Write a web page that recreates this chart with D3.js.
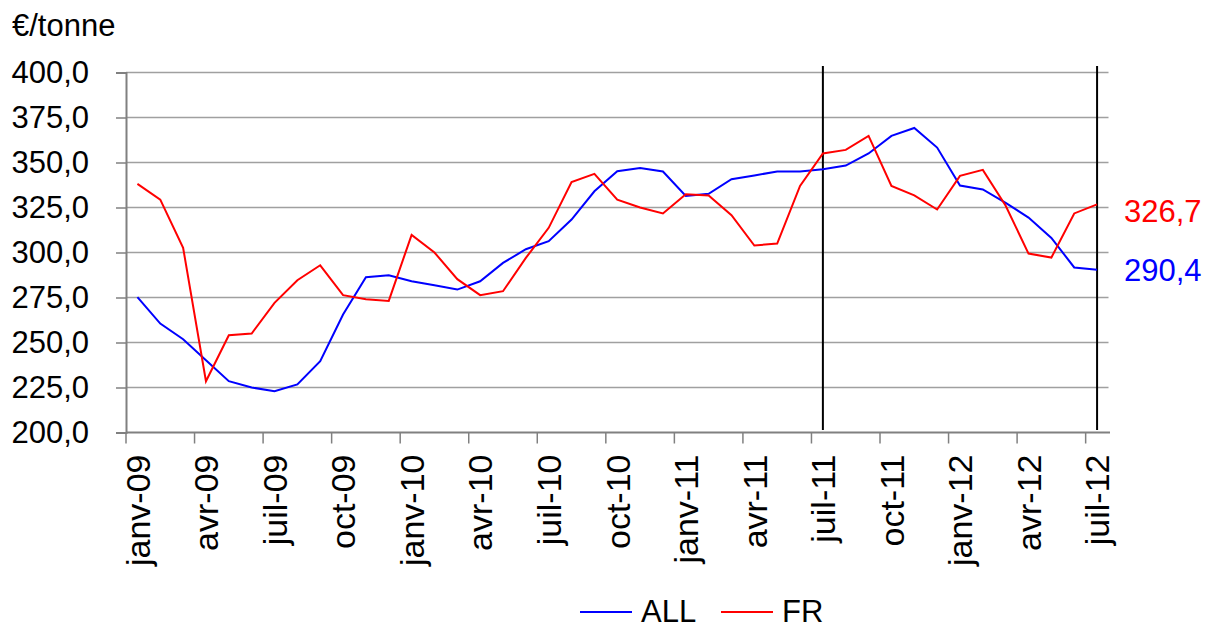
<!DOCTYPE html>
<meta charset="utf-8">
<style>
body {
  margin: 0;
  background: #fff;
  font-family: "Liberation Sans", Arial, sans-serif;
}
svg text {
  fill: #000;
}
</style>
<body>
<svg width="1213" height="625"></svg>
<script src="https://d3js.org/d3.v7.min.js"></script>
<script>
// months janv-09 .. juil-12
var months = ["janv-09","févr-09","mars-09","avr-09","mai-09","juin-09","juil-09","août-09","sept-09","oct-09","nov-09","déc-09",
  "janv-10","févr-10","mars-10","avr-10","mai-10","juin-10","juil-10","août-10","sept-10","oct-10","nov-10","déc-10",
  "janv-11","févr-11","mars-11","avr-11","mai-11","juin-11","juil-11","août-11","sept-11","oct-11","nov-11","déc-11",
  "janv-12","févr-12","mars-12","avr-12","mai-12","juin-12","juil-12"];

var allValues = [275.2,260.5,251.8,240.2,228.5,225.0,222.9,226.7,239.6,265.5,286.3,287.4,
  284.0,281.8,279.4,284.0,294.2,301.8,306.3,318.3,334.0,345.2,347.0,345.0,
  331.4,332.6,340.7,342.8,345.0,345.0,346.3,348.3,355.0,364.8,369.2,358.3,
  337.2,335.0,327.6,319.4,308.1,291.7,290.4];

var frValues = [338.1,329.4,302.6,228.5,254.0,255.0,272.0,284.6,292.9,276.3,274.0,273.1,
  309.8,300.0,285.2,276.3,278.5,297.0,313.7,339.2,343.7,329.4,325.0,321.7,
  332.4,331.7,320.7,303.9,305.0,337.0,355.0,357.0,364.8,337.0,331.7,323.9,
  342.6,345.9,326.0,299.4,297.2,321.7,326.7];

var yTicks = [200,225,250,275,300,325,350,375,400];
var tickMonths = months.filter(function(d, i) { return i % 3 === 0; });
var markerMonths = ["juil-11","juil-12"];

var series = [
  {name: "ALL", values: allValues, color: "#0000ff"},
  {name: "FR", values: frValues, color: "#ff0000"}
];

var svg = d3.select("svg");
var fontSize = 31;

var x = d3.scaleBand().domain(months).range([126, 1108.5]);
var y = d3.scaleLinear().domain([200, 400]).range([432.5, 72.5]);
var fmt = function(v) { return d3.format(".1f")(v).replace(".", ","); };

// gridlines
svg.append("g")
  .selectAll("line")
  .data(yTicks.slice(1))
  .enter().append("line")
    .attr("x1", 126).attr("x2", 1108.5)
    .attr("y1", function(d) { return y(d); })
    .attr("y2", function(d) { return y(d); })
    .attr("stroke", "#a0a0a0")
    .attr("stroke-width", 1.3);

// y axis
var yAxis = svg.append("g")
  .attr("transform", "translate(126,0)")
  .call(d3.axisLeft(y).tickValues(yTicks).tickSize(10).tickPadding(27).tickFormat(fmt));
yAxis.select(".domain").attr("stroke", "#808080").attr("stroke-width", 2);
yAxis.selectAll(".tick line").attr("stroke", "#808080").attr("stroke-width", 1.5);
yAxis.selectAll("text")
  .style("font-size", fontSize + "px")
  .style("font-family", "'Liberation Sans', Arial, sans-serif")
  .attr("fill", "#000");

// x axis: ticks between categories, every 3 months
var xAxis = svg.append("g").attr("transform", "translate(0," + y(200) + ")");
xAxis.append("line")
  .attr("x1", 126).attr("x2", 1110)
  .attr("stroke", "#808080").attr("stroke-width", 2);
xAxis.selectAll(".xtick")
  .data(tickMonths)
  .enter().append("line")
    .attr("class", "xtick")
    .attr("x1", function(d) { return x(d); })
    .attr("x2", function(d) { return x(d); })
    .attr("y1", 0).attr("y2", 11)
    .attr("stroke", "#808080").attr("stroke-width", 1.5);
xAxis.selectAll(".xlabel")
  .data(tickMonths)
  .enter().append("text")
    .attr("class", "xlabel")
    .attr("transform", function(d) {
      return "translate(" + (x(d) + x.bandwidth() / 2) + ",22) rotate(-90)";
    })
    .attr("text-anchor", "end")
    .attr("dy", "0.36em")
    .style("font-size", "34px")
    .text(function(d) { return d; });

// vertical markers
svg.append("g")
  .selectAll("line")
  .data(markerMonths)
  .enter().append("line")
    .attr("x1", function(d) { return x(d) + x.bandwidth() / 2; })
    .attr("x2", function(d) { return x(d) + x.bandwidth() / 2; })
    .attr("y1", 66).attr("y2", 430)
    .attr("stroke", "#000").attr("stroke-width", 2);

// lines
var line = d3.line()
  .x(function(d, i) { return x(months[i]) + x.bandwidth() / 2; })
  .y(function(d) { return y(d); });

svg.selectAll(".series")
  .data(series)
  .enter().append("path")
    .attr("class", "series")
    .attr("d", function(d) { return line(d.values); })
    .attr("fill", "none")
    .attr("stroke", function(d) { return d.color; })
    .attr("stroke-width", 2);

// end labels
svg.selectAll(".endlabel")
  .data(series)
  .enter().append("text")
    .attr("class", "endlabel")
    .attr("x", 1124)
    .attr("y", function(d) {
      var v = d.values[d.values.length - 1];
      return y(v) + (d.name === "FR" ? 6 : 0);
    })
    .attr("dy", "0.36em")
    .style("font-size", fontSize + "px")
    .style("fill", function(d) { return d.color; })
    .text(function(d) { return fmt(d.values[d.values.length - 1]); });

// unit
svg.append("text")
  .attr("x", 12).attr("y", 36)
  .style("font-size", fontSize + "px")
  .text("€/tonne");

// legend
var legend = svg.append("g").attr("transform", "translate(580,612)");
var lg = legend.selectAll("g")
  .data(series)
  .enter().append("g")
    .attr("transform", function(d, i) { return "translate(" + (i * 141) + ",0)"; });
lg.append("line")
  .attr("x1", 0).attr("x2", 52)
  .attr("stroke", function(d) { return d.color; })
  .attr("stroke-width", 2);
lg.append("text")
  .attr("x", 61)
  .attr("y", 10)
  .style("font-size", fontSize + "px")
  .text(function(d) { return d.name; });
</script>
</body>
